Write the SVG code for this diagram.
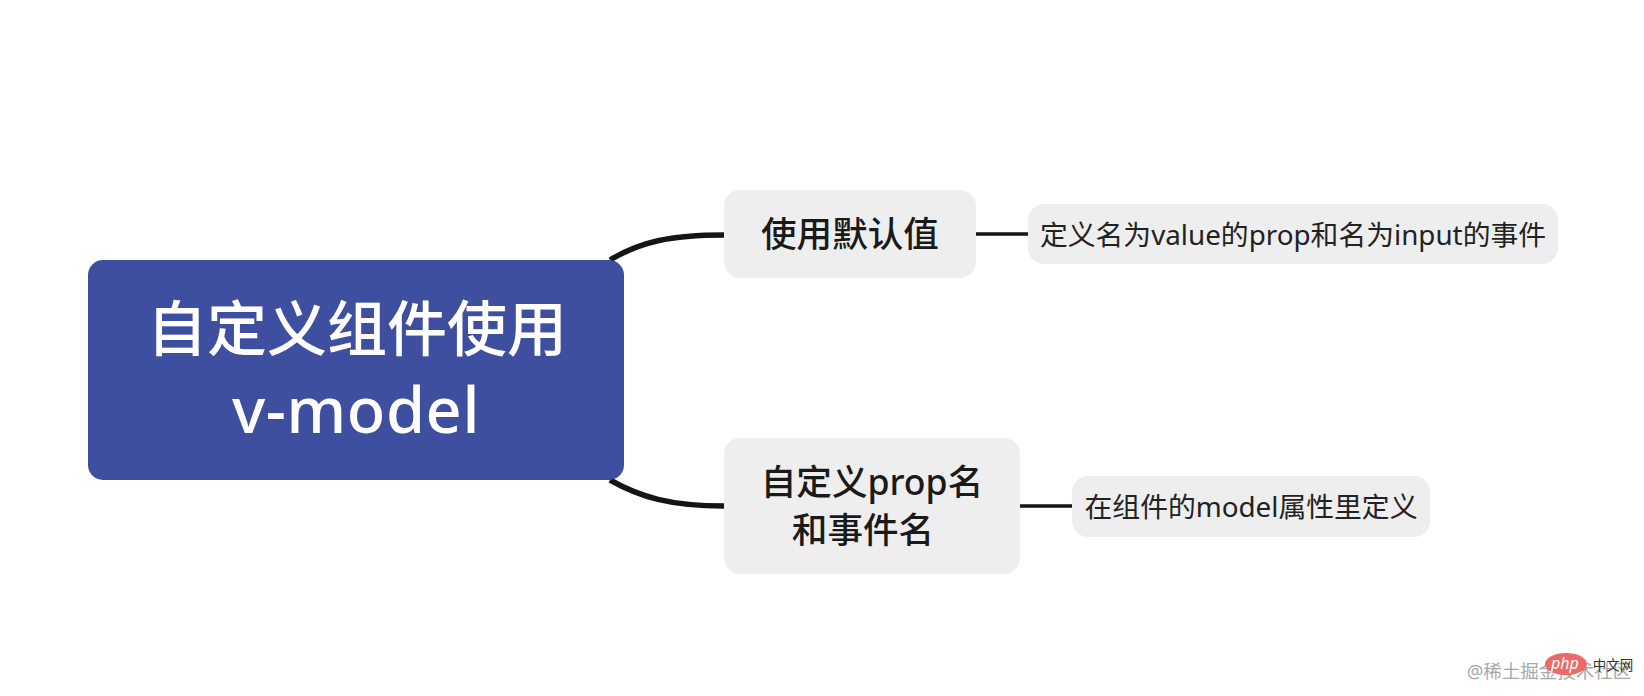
<svg xmlns="http://www.w3.org/2000/svg" width="1644" height="696" viewBox="0 0 1644 696">
  <style>
    text { font-family: "Noto Sans", "Noto Sans CJK SC", sans-serif; text-anchor: middle; }
    .branch { fill: #eeeeee; }
    .link { fill: none; stroke: #151515; }
    .root-label { fill: #ffffff; font-size: 60px; font-weight: 500; }
    .mid-label { fill: #1a1a1a; font-size: 35.6px; font-weight: 500; }
    .leaf-label { fill: #222222; font-size: 27.8px; }
  </style>
  <rect width="1644" height="696" fill="#ffffff"/>

  <g id="connectors">
    <path class="link" stroke-width="5.5" d="M610 260 C640 242 670 235 724 235"/>
    <path class="link" stroke-width="5.5" d="M610 480 C640 497 670 506 724 506"/>
    <path class="link" stroke-width="3.5" d="M976 234 H1028"/>
    <path class="link" stroke-width="3.5" d="M1020 506 H1072"/>
  </g>

  <g id="root">
    <rect x="88" y="260" width="536" height="220" rx="15" fill="#3f4fa0"/>
    <text class="root-label" x="357" y="351">自定义组件使用</text>
    <text class="root-label" x="356" y="433" style="font-size:63px" letter-spacing="0.6">v-model</text>
  </g>

  <g id="default-value">
    <rect class="branch" x="724" y="190" width="252" height="88" rx="16"/>
    <text class="mid-label" x="850" y="247">使用默认值</text>
  </g>

  <g id="default-value-detail">
    <rect class="branch" x="1028" y="204" width="530" height="60" rx="16"/>
    <text class="leaf-label" x="1293" y="245">定义名为value的prop和名为input的事件</text>
  </g>

  <g id="custom-names">
    <rect class="branch" x="724" y="438" width="296" height="136" rx="16"/>
    <text class="mid-label" x="872" y="495">自定义prop名</text>
    <text class="mid-label" x="863" y="543">和事件名</text>
  </g>

  <g id="custom-names-detail">
    <rect class="branch" x="1072" y="476" width="358" height="61" rx="16"/>
    <text class="leaf-label" x="1251" y="517">在组件的model属性里定义</text>
  </g>

  <g id="credits">
    <text x="1549" y="678" font-size="18.5" fill="#a8a8a8">@稀土掘金技术社区</text>
    <ellipse cx="1566" cy="664" rx="21" ry="11" fill="#ea6a6a"/>
    <text x="1565" y="669" font-size="16" font-style="italic" fill="#ffffff">php</text>
    <text x="1613" y="670" font-size="13.5" fill="#333333">中文网</text>
  </g>
</svg>
